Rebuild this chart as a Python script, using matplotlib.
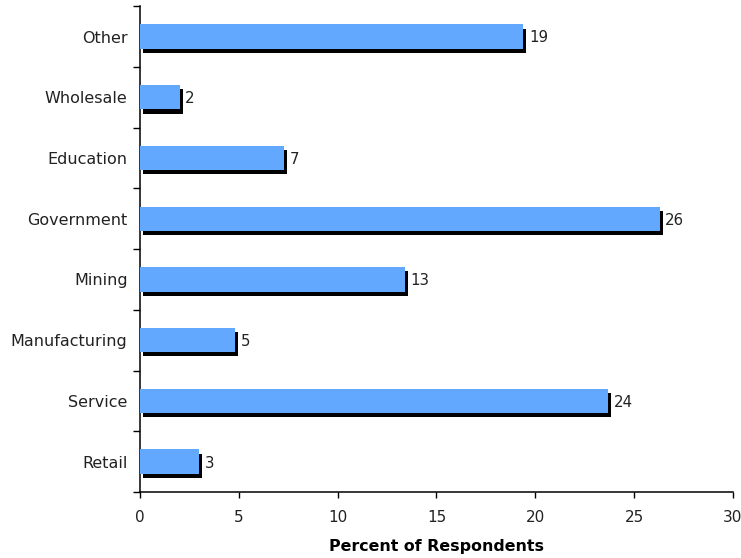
import matplotlib
matplotlib.use("Agg")
import matplotlib.pyplot as plt
import matplotlib.patheffects as pe
import numpy as np

# Industry breakdown of survey respondents (percent)
categories = ["Retail", "Service", "Manufacturing", "Mining",
              "Government", "Education", "Wholesale", "Other"]
percents = [3.0, 23.7, 4.8, 13.4, 26.3, 7.3, 2.0, 19.4]
x_ticks = [0, 5, 10, 15, 20, 25, 30]

plt.rcParams["font.family"] = ["DejaVu Sans"]

fig = plt.figure(figsize=(7.41, 5.58), dpi=100)
ax = fig.add_axes([0.189, 0.1183, 0.8, 0.8707])

y = np.arange(len(categories))
bars = ax.barh(y, percents, height=0.4, color="#62A8FF", edgecolor="none",
               zorder=3)
shadow = pe.SimplePatchShadow(offset=(2.2, -3.0), shadow_rgbFace="black",
                              alpha=1.0)
for b in bars:
    b.set_path_effects([shadow, pe.Normal()])

for yi, v in zip(y, percents):
    ax.annotate(f"{v:.0f}", xy=(v, yi), xytext=(4.0, -1.0),
                textcoords="offset points", ha="left", va="center",
                fontsize=10.8, color="#222222")

ax.set_xlim(0, 30)
ax.set_ylim(-0.5, len(categories) - 0.5)
ax.set_xticks(x_ticks)
ax.set_xticklabels([str(t) for t in x_ticks], fontsize=11, color="#222222")
ax.tick_params(axis="x", direction="out", length=4, width=1, pad=9)

ax.set_yticks(y)
ax.set_yticklabels(categories, fontsize=11.5, color="#222222")
ax.tick_params(axis="y", which="major", length=0, pad=9)
ax.set_yticks(np.arange(-0.5, len(categories)), minor=True)
ax.tick_params(axis="y", which="minor", direction="out", length=5, width=1)

for side in ("top", "right"):
    ax.spines[side].set_visible(False)
for side in ("left", "bottom"):
    ax.spines[side].set_linewidth(1.1)

ax.set_xlabel("Percent of Respondents", fontsize=11.4, fontweight="bold",
              labelpad=10)

fig.savefig("out.png", dpi=100)
